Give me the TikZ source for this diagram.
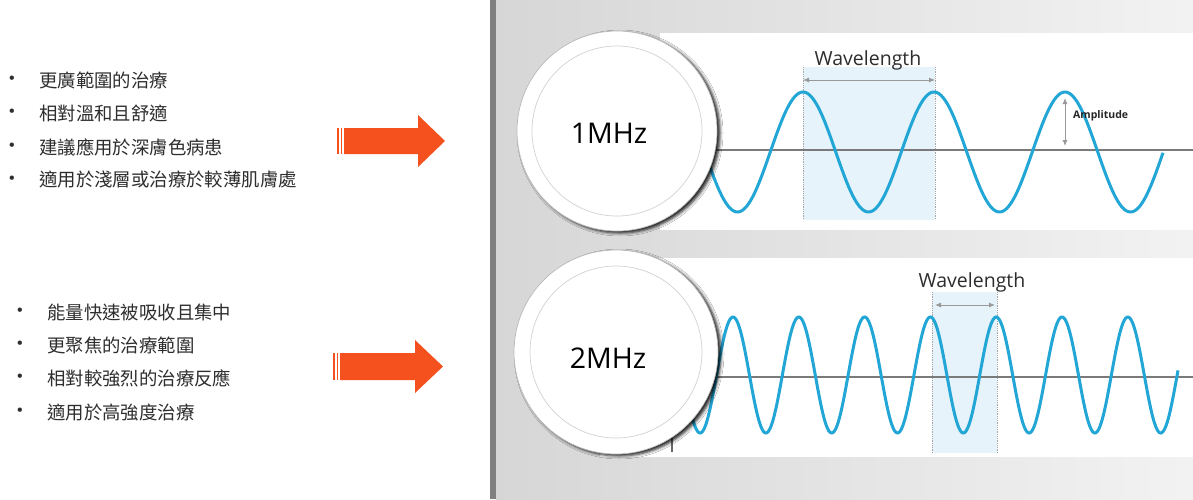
\documentclass[tikz,border=0pt]{standalone}
\usepackage{fontspec}
\setmainfont{Open Sans}
\newfontfamily\cjk{Noto Sans CJK TC}
\newfontfamily\bulf{Liberation Sans}
\usetikzlibrary{shadows.blur,arrows.meta}
\definecolor{wave}{HTML}{22A6D6}
\definecolor{axisc}{HTML}{7A7A7A}
\definecolor{wlshade}{HTML}{E6F3FB}
\definecolor{orng}{HTML}{F4511E}
\definecolor{txt}{HTML}{2E2E2E}
\tikzset{
  item/.style={anchor=west, font=\cjk\fontsize{18.4}{21}\selectfont, text=txt, inner sep=0pt},
  bul/.style={anchor=center, font=\bulf\fontsize{16}{18}\selectfont, text=txt, inner sep=0pt},
  wavep/.style={wave, line width=3pt},
  axisl/.style={axisc, line width=1.6pt},
  dotl/.style={gray!70, line width=0.8pt, densely dotted},
  dim/.style={gray!80, line width=0.9pt, {Latex[length=6pt,width=5pt]}-{Latex[length=6pt,width=5pt]}},
  wl/.style={font=\fontsize{19.5}{21}\selectfont, text=gray!35!black, inner sep=0pt},
  outerc/.style={circle, fill=white, draw=gray!55, line width=0.7pt, minimum size=#1,
     blur shadow={shadow xshift=3pt, shadow yshift=-2pt, shadow blur radius=3pt, shadow opacity=90}},
  innerc/.style={circle, draw=gray!35, line width=0.7pt, minimum size=#1, inner sep=0pt},
  freq/.style={font=\fontsize{28.5}{32}\selectfont, text=black, inner sep=0pt},
}
\begin{document}
\begin{tikzpicture}[x=1pt,y=-1pt]
\useasboundingbox (0,0) rectangle (1193,499);
% backgrounds
\fill[white] (0,0) rectangle (490,499);
\shade[left color=black!16, right color=black!5] (496,0) rectangle (1193,499);
\fill[black!50] (490,0) rectangle (496,499);
% picture panels
\fill[white] (660,33) rectangle (1193,230);
\fill[white] (600,258) rectangle (1193,457);

% ---- top wave ----
\fill[wlshade] (803,67) rectangle (935,220);
\draw[dotl] (803,67) -- (803,220);
\draw[dotl] (935,67) -- (935,220);
\coordinate (wa1) at (803,80);
\coordinate (wa2) at (935,80);
\draw[dim] (wa1) -- (wa2);
\node[wl] (wlt) at (868,60) {Wavelength};
\draw[axisl] (700,150) -- (1193,150);
\draw[wavep] plot[domain=672:1163, samples=240, smooth] (\x,{152-60*cos((\x-803)*2.748)});
\coordinate (am1) at (1065,98);
\coordinate (am2) at (1065,146);
\draw[dim] (am1) -- (am2);
\node[anchor=west, font=\bfseries\fontsize{10.5}{12}\selectfont, text=gray!30!black, inner sep=0pt] (amp) at (1073,116) {Amplitude};

% ---- bottom wave ----
\fill[wlshade] (932,292) rectangle (997,453);
\draw[dotl] (932,292) -- (932,453);
\draw[dotl] (997,292) -- (997,453);
\coordinate (wb1) at (935,305);
\coordinate (wb2) at (995,305);
\draw[dim] (wb1) -- (wb2);
\node[wl] (wlb) at (972,282) {Wavelength};
\draw[axisl] (690,377) -- (1193,377);
\draw[black!60, line width=1.5pt] (672,437) -- (672,452);
\draw[wavep] plot[domain=684:1178, samples=400, smooth] (\x,{375-58*cos((\x-733)*5.471)});

% ---- circles ----
\node[outerc=200pt] (c1) at (617,131) {};
\node[innerc=170pt] (i1) at (617,131) {};
\node[freq] (f1) at (609,133) {1MHz};
\node[outerc=204pt] (c2) at (616,352) {};
\node[innerc=172pt] (i2) at (616,352) {};
\node[freq] (f2) at (608,358) {2MHz};

% ---- orange arrows ----
\fill[orng] (337,128) rectangle (339,154);
\fill[orng] (340.5,128) rectangle (342,154);
\fill[orng] (344,128) -- (418,128) -- (418,115) -- (445,141) -- (418,167) -- (418,154) -- (344,154) -- cycle;
\fill[orng] (333,353) rectangle (335,380);
\fill[orng] (336.5,353) rectangle (338,380);
\fill[orng] (340,353) -- (415,353) -- (415,340) -- (443,366.5) -- (415,393) -- (415,380) -- (340,380) -- cycle;

% ---- text lists ----
\node[bul] (b1) at (12,80) {•};
\node[item] (t1) at (39,80) {更廣範圍的治療};
\node[bul] (b2) at (12,113) {•};
\node[item] (t2) at (39,113) {相對溫和且舒適};
\node[bul] (b3) at (12,147) {•};
\node[item] (t3) at (39,147) {建議應用於深膚色病患};
\node[bul] (b4) at (12,180) {•};
\node[item] (t4) at (39,180) {適用於淺層或治療於較薄肌膚處};

\node[bul] (b5) at (20,312) {•};
\node[item] (t5) at (47,312) {能量快速被吸收且集中};
\node[bul] (b6) at (20,345) {•};
\node[item] (t6) at (47,345) {更聚焦的治療範圍};
\node[bul] (b7) at (20,378) {•};
\node[item] (t7) at (47,378) {相對較強烈的治療反應};
\node[bul] (b8) at (20,412) {•};
\node[item] (t8) at (47,412) {適用於高強度治療};
\end{tikzpicture}
\end{document}
